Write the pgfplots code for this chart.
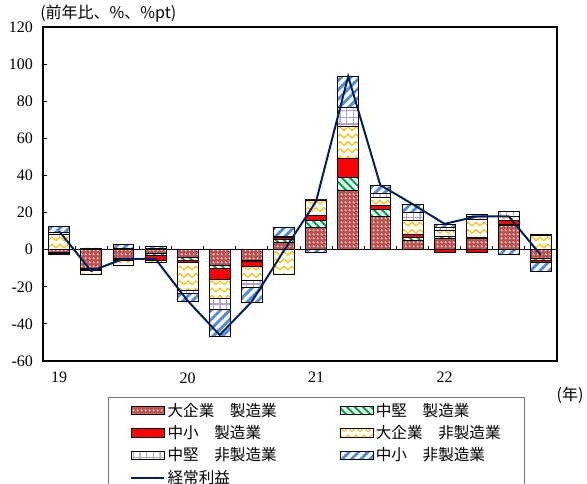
\documentclass[border=0pt]{standalone}
\usepackage{fontspec}
\setmainfont{Liberation Serif}
\newfontfamily\cjk{Noto Sans CJK JP}
\usepackage{pgfplots}
\pgfplotsset{compat=1.18}
\usepackage{pgfplotstable}
\usetikzlibrary{patterns}

\definecolor{cbrown}{RGB}{192,80,77}
\definecolor{cgreen}{RGB}{0,176,80}
\definecolor{cred}{RGB}{255,0,0}
\definecolor{cyellow}{RGB}{255,192,0}
\definecolor{cpurple}{RGB}{179,162,199}
\definecolor{cblue}{RGB}{85,142,213}
\definecolor{cnavy}{RGB}{0,32,96}

\pgfdeclarepatternformonly{sqdots}{\pgfqpoint{0pt}{0pt}}{\pgfqpoint{3pt}{3pt}}{\pgfqpoint{3pt}{3pt}}{%
  \pgfpathrectangle{\pgfqpoint{0.85pt}{0.85pt}}{\pgfqpoint{1.3pt}{1.3pt}}\pgfusepath{fill}}
\pgfdeclarepatternformonly{nethick}{\pgfqpoint{-1pt}{-1pt}}{\pgfqpoint{8pt}{8pt}}{\pgfqpoint{7pt}{7pt}}{%
  \pgfsetlinewidth{2.2pt}\pgfpathmoveto{\pgfqpoint{0pt}{0pt}}\pgfpathlineto{\pgfqpoint{7.1pt}{7.1pt}}\pgfusepath{stroke}}
\pgfdeclarepatternformonly{nwthick}{\pgfqpoint{-1pt}{-1pt}}{\pgfqpoint{7pt}{7pt}}{\pgfqpoint{6pt}{6pt}}{%
  \pgfsetlinewidth{1.8pt}\pgfpathmoveto{\pgfqpoint{0pt}{6pt}}\pgfpathlineto{\pgfqpoint{6.1pt}{-0.1pt}}\pgfusepath{stroke}}
\pgfdeclarepatternformonly{zigzag}{\pgfqpoint{-0.5pt}{-0.5pt}}{\pgfqpoint{6.5pt}{6pt}}{\pgfqpoint{6pt}{5.5pt}}{%
  \pgfsetlinewidth{0.9pt}\pgfpathmoveto{\pgfqpoint{0pt}{1pt}}\pgfpathlineto{\pgfqpoint{3pt}{3.8pt}}\pgfpathlineto{\pgfqpoint{6pt}{1pt}}\pgfusepath{stroke}}
\pgfdeclarepatternformonly{pgrid}{\pgfqpoint{-0.5pt}{-0.5pt}}{\pgfqpoint{5.5pt}{5.5pt}}{\pgfqpoint{5pt}{5pt}}{%
  \pgfsetlinewidth{0.8pt}\pgfpathmoveto{\pgfqpoint{0pt}{0pt}}\pgfpathlineto{\pgfqpoint{5.1pt}{0pt}}\pgfpathmoveto{\pgfqpoint{0pt}{0pt}}\pgfpathlineto{\pgfqpoint{0pt}{5.1pt}}\pgfusepath{stroke}}

\pgfplotsset{
  sB/.style={draw=black, line width=0.5pt, fill=cbrown, postaction={pattern=sqdots, pattern color=white}},
  sG/.style={draw=black, line width=0.5pt, fill=white, postaction={pattern=nwthick, pattern color=cgreen}},
  sR/.style={draw=black, line width=0.5pt, fill=cred},
  sY/.style={draw=black, line width=0.5pt, fill=white, postaction={pattern=zigzag, pattern color=cyellow}},
  sP/.style={draw=black, line width=0.5pt, fill=white, postaction={pattern=pgrid, pattern color=cpurple}},
  sL/.style={draw=black, line width=0.5pt, fill=white, postaction={pattern=nethick, pattern color=cblue}},
  barleg/.style={legend image code/.code={\draw[##1] (0pt,-3.2pt) rectangle (24.75pt,3.2pt);}},
  lineleg/.style={legend image code/.code={\draw[##1] (0pt,0pt) -- (24.75pt,0pt);}},
  common/.style={width=385.5pt, height=250.5pt, scale only axis, at={(0pt,0pt)}, anchor=south west,
    xmin=-0.5, xmax=15.5, ymin=-60, ymax=120},
}

\pgfplotstableread{
x B G R Y P L
0 0 0 0 8.0 1.2 3.3
1 0 0 0 0 0.3 0.6
2 0 0 0 0 0.6 2.3
3 0 0 0 0 0.9 0.9
4 0 0 0 0 0 0
5 0 0 0 0 0 0
6 0 0 0 0 0 0
7 4.1 1.2 1.4 0 0.5 4.9
8 12.1 3.8 2.5 8.4 0.5 0
9 32.1 6.8 10.4 17.3 10.2 16.6
10 17.9 3.6 2.3 4.6 1.9 4.5
11 5.0 1.4 1.6 7.6 4.5 4.5
12 6.3 1.0 0 3.0 1.8 1.8
13 6.3 0.5 0 9.3 1.8 1.0
14 13.0 0.4 2.3 2.1 2.9 0
15 0 0 0 7.7 0.7 0
}\pos

\pgfplotstableread{
x B G R Y P L
0 -1.5 -0.4 -0.8 0 0 0
1 -10.2 -0.4 -0.6 -2.2 0 0
2 -4.6 -0.4 -0.6 -2.8 0 0
3 -2.1 -0.9 -2.5 -1.1 0 0
4 -3.9 -1.8 -1.1 -15.0 -1.8 -4.5
5 -8.4 -1.8 -5.9 -10.2 -5.9 -14.3
6 -5.7 -0.6 -2.6 -7.4 -4.1 -8.0
7 0 0 0 -13.2 0 0
8 0 0 0 0 0 -1.4
9 0 0 0 0 0 0
10 0 0 0 0 0 0
11 0 0 0 0 0 0
12 0 0 -1.2 0 0 0
13 0 0 -1.4 0 0 0
14 0 0 0 0 0 -2.7
15 -4.8 -0.9 -0.9 0 0 -5.0
}\neg

\pgfplotstableread{
x v
0 10.0
1 -11.5
2 -5.0
3 -5.0
4 -27.5
5 -46.0
6 -28.0
7 -0.5
8 26.0
9 93.4
10 34.8
11 24.6
12 13.9
13 17.9
14 17.9
15 -3.0
}\lineT

\begin{document}
\begin{tikzpicture}
\useasboundingbox (-32.25pt,-92.25pt) rectangle (408pt,270.75pt);
% negative stacks + zero line
\begin{axis}[common, ybar stacked, bar width=0.65,
  axis x line*=middle, axis y line=none,
  xtick={0.5,1.5,...,14.5}, xticklabels={}, xtick align=inside,
  major tick length=3pt, x axis line style={line width=0.6pt, black},
  xtick style={black, line width=0.6pt}, ytick=\empty]
\addplot[sB] table[x=x,y=B]{\neg};
\addplot[sG] table[x=x,y=G]{\neg};
\addplot[sR] table[x=x,y=R]{\neg};
\addplot[sY] table[x=x,y=Y]{\neg};
\addplot[sP] table[x=x,y=P]{\neg};
\addplot[sL] table[x=x,y=L]{\neg};
\end{axis}
% positive stacks
\begin{axis}[common, ybar stacked, bar width=0.65, hide axis]
\addplot[sB] table[x=x,y=B]{\pos};
\addplot[sG] table[x=x,y=G]{\pos};
\addplot[sR] table[x=x,y=R]{\pos};
\addplot[sY] table[x=x,y=Y]{\pos};
\addplot[sP] table[x=x,y=P]{\pos};
\addplot[sL] table[x=x,y=L]{\pos};
\end{axis}
% frame, ticks, line, legend
\begin{axis}[common,
  axis line style={line width=2.2pt, black},
  ytick={-60,-40,...,120}, yticklabels={-60,-40,-20,0,20,40,60,80,100,120},
  ytick pos=left, ytick align=inside, major tick length=3pt,
  ytick style={black, line width=0.6pt},
  xtick={0,4,8,12}, xticklabels={19,20,21,22}, xtick style={draw=none},
  tick label style={font=\fontsize{12}{14}\selectfont},
  yticklabel style={xshift=-4pt}, xticklabel style={yshift=-5pt},
  legend columns=2,
  legend cell align=left,
  legend style={at={(axis description cs:0.1265,-0.1078)}, anchor=north west,
    draw=black!55, line width=0.8pt, font=\cjk\fontsize{11.7}{14}\selectfont,
    inner xsep=16pt, inner ysep=2pt, row sep=1.5pt},
]
\addlegendimage{sB, barleg}\addlegendentry{\makebox[127pt][l]{大企業　製造業}}
\addlegendimage{sG, barleg}\addlegendentry{中堅　製造業}
\addlegendimage{sR, barleg}\addlegendentry{\makebox[127pt][l]{中小　製造業}}
\addlegendimage{sY, barleg}\addlegendentry{大企業　非製造業}
\addlegendimage{sP, barleg}\addlegendentry{\makebox[127pt][l]{中堅　非製造業}}
\addlegendimage{sL, barleg}\addlegendentry{中小　非製造業}
\addplot[cnavy, line width=1.5pt, lineleg] table[x=x,y=v]{\lineT};
\addlegendentry{経常利益}
\end{axis}
\node[anchor=west, font=\cjk\fontsize{12}{14}\selectfont, inner sep=0pt] at (-2.25pt,260.25pt) {(前年比、\%、\%pt)};
\node[font=\cjk\fontsize{12}{14}\selectfont, inner sep=0pt] at (395.25pt,-25.5pt) {(年)};
\end{tikzpicture}
\end{document}
